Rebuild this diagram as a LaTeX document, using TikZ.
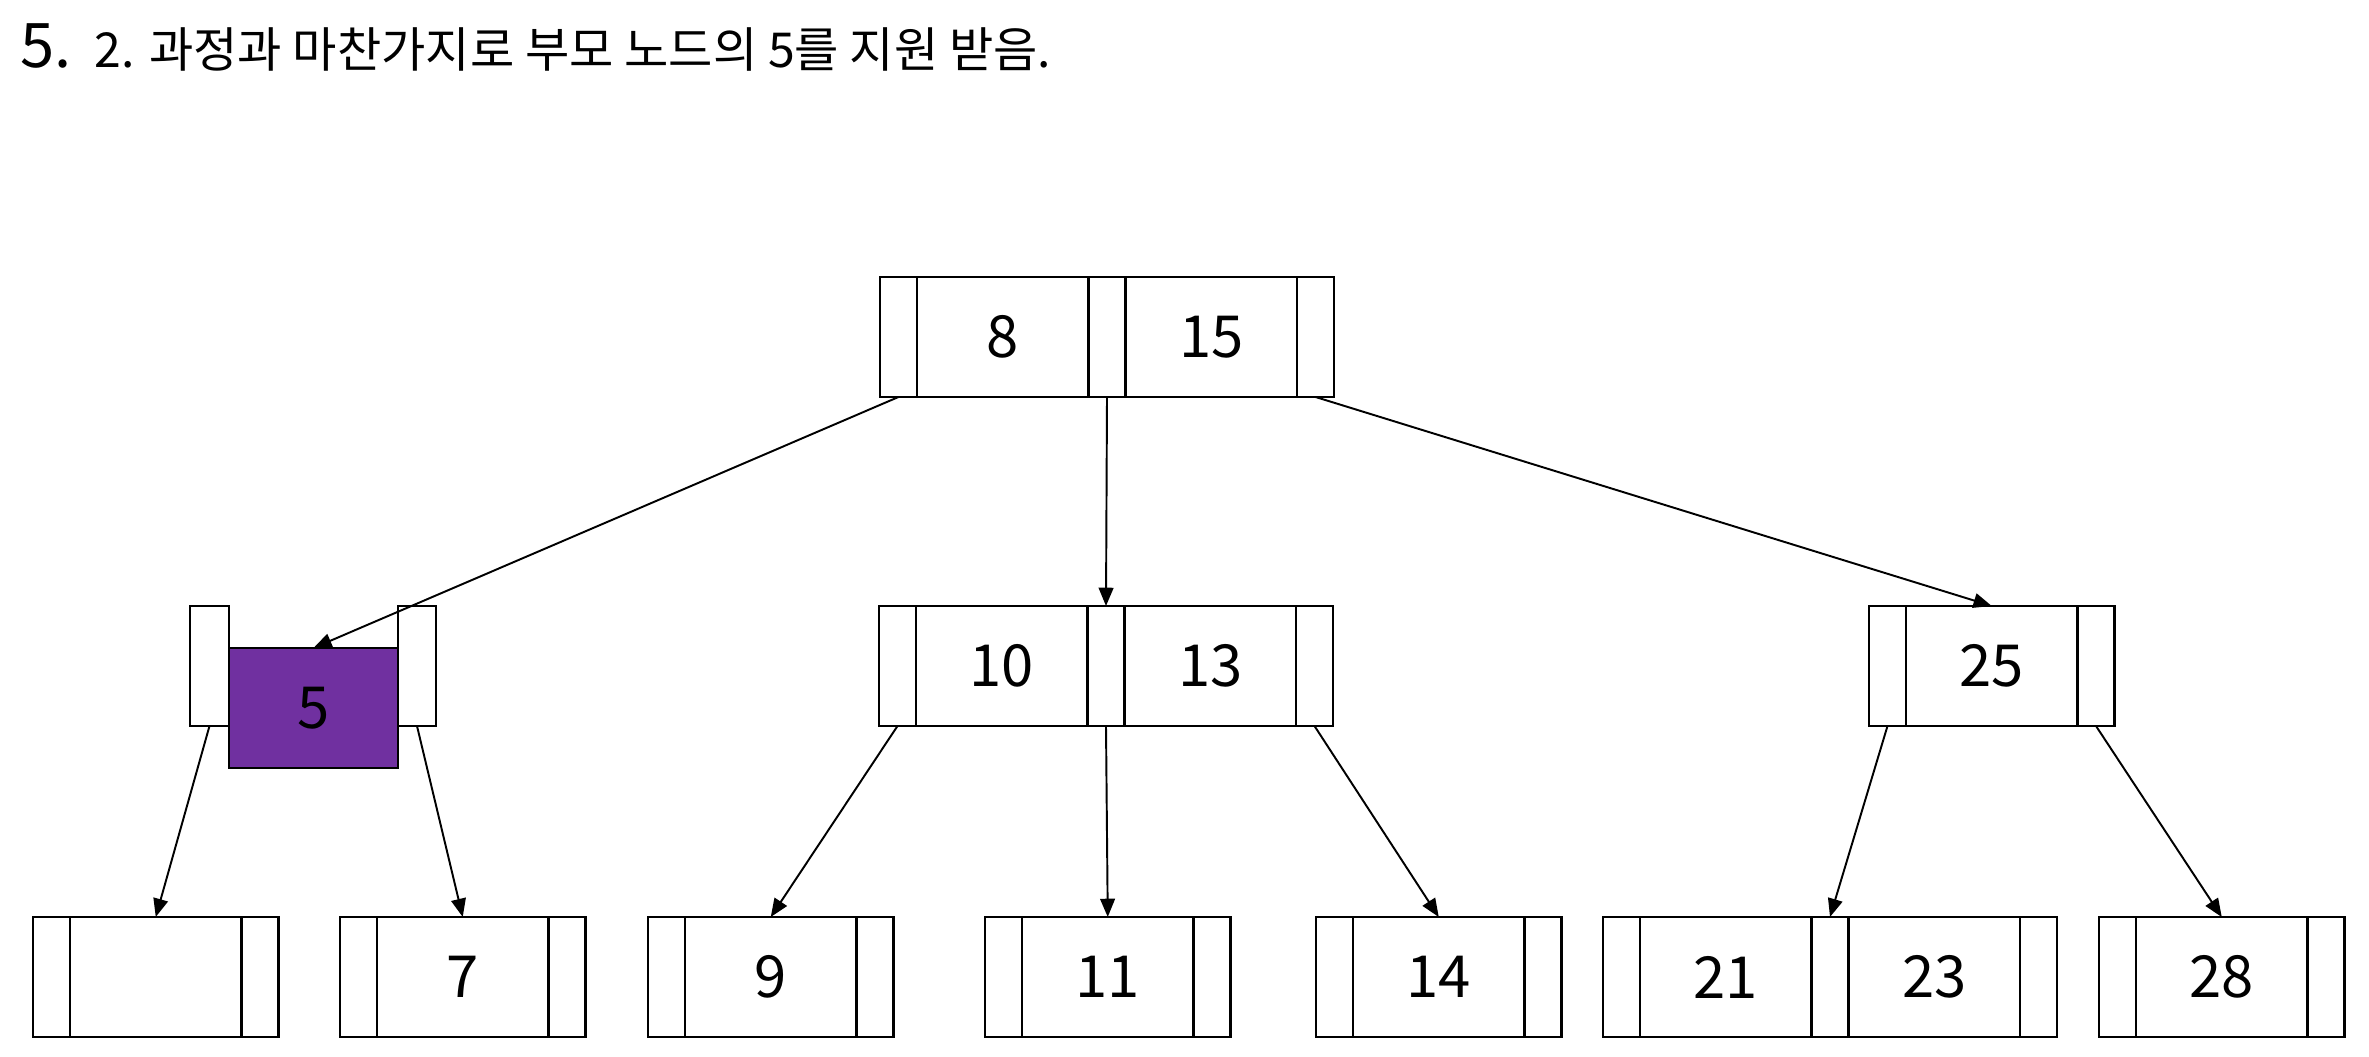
\documentclass[tikz,border=0pt]{standalone}
\usepackage{fontspec}
\setmainfont{Noto Sans CJK KR}
\usetikzlibrary{arrows.meta}
\definecolor{bpurple}{HTML}{7030A0}
\tikzset{
  cell/.style={draw, line width=0.78pt, minimum height=1.2cm, inner sep=0pt, outer sep=0pt, anchor=west},
  ptr/.style={cell, minimum width=0.37cm},
  key/.style={cell, minimum width=1.715cm, font=\fontsize{16.5}{19}\selectfont},
  arr/.style={-{Triangle[length=5.2pt,width=4.2pt]}, line width=0.55pt, shorten <=0pt},
  ttl/.style={inner sep=0pt, anchor=base west}
}
\begin{document}
\begin{tikzpicture}
\useasboundingbox (0,0) rectangle (23.69,-10.57);
% title
\node[ttl, font=\fontsize{17.5}{20}\selectfont] (t5) at (0.20,-0.68) {5.};
\node[ttl, font=\fontsize{13.7}{16}\selectfont] (tt) at (0.94,-0.68) {2. 과정과 마찬가지로 부모 노드의 5를 지원 받음.};
% root
\node[ptr] (r0) at (8.80,-3.37) {};
\node[key] (r1) at (r0.east) {8};
\node[ptr] (r2) at (r1.east) {};
\node[key] (r3) at (r2.east) {15};
\node[ptr] (r4) at (r3.east) {};
% purple node
\node[ptr, minimum width=0.39cm] (p0) at (1.90,-6.66) {};
\node[key, minimum width=1.69cm, fill=bpurple, anchor=north west] (p1) at (2.29,-6.48) {5};
\node[ptr, minimum width=0.38cm] (p2) at (3.98,-6.66) {};
% 10 | 13
\node[ptr] (m0) at (8.79,-6.66) {};
\node[key] (m1) at (m0.east) {10};
\node[ptr] (m2) at (m1.east) {};
\node[key] (m3) at (m2.east) {13};
\node[ptr] (m4) at (m3.east) {};
% 25
\node[ptr] (q0) at (18.69,-6.66) {};
\node[key] (q1) at (q0.east) {25};
\node[ptr] (q2) at (q1.east) {};
% leaves
\node[ptr] (a0) at (0.33,-9.77) {};
\node[key] (a1) at (a0.east) {};
\node[ptr] (a2) at (a1.east) {};
\node[ptr] (b0) at (3.40,-9.77) {};
\node[key] (b1) at (b0.east) {7};
\node[ptr] (b2) at (b1.east) {};
\node[ptr] (c0) at (6.48,-9.77) {};
\node[key] (c1) at (c0.east) {9};
\node[ptr] (c2) at (c1.east) {};
\node[ptr] (d0) at (9.85,-9.77) {};
\node[key] (d1) at (d0.east) {11};
\node[ptr] (d2) at (d1.east) {};
\node[ptr] (e0) at (13.16,-9.77) {};
\node[key] (e1) at (e0.east) {14};
\node[ptr] (e2) at (e1.east) {};
\node[ptr] (f0) at (16.03,-9.77) {};
\node[key] (f1) at (f0.east) {21};
\node[ptr] (f2) at (f1.east) {};
\node[key] (f3) at (f2.east) {23};
\node[ptr] (f4) at (f3.east) {};
\node[ptr] (g0) at (20.99,-9.77) {};
\node[key] (g1) at (g0.east) {28};
\node[ptr] (g2) at (g1.east) {};
% connectors
\draw[arr] (r0.south) -- (p1.north);
\draw[arr] (r2.south) -- (m2.north);
\draw[arr] (r4.south) -- (q1.north);
\draw[arr] (p0.south) -- (a1.north);
\draw[arr] (p2.south) -- (b1.north);
\draw[arr] (m0.south) -- (c1.north);
\draw[arr] (m2.south) -- (d1.north);
\draw[arr] (m4.south) -- (e1.north);
\draw[arr] (q0.south) -- (f2.north);
\draw[arr] (q2.south) -- (g1.north);
\end{tikzpicture}
\end{document}
